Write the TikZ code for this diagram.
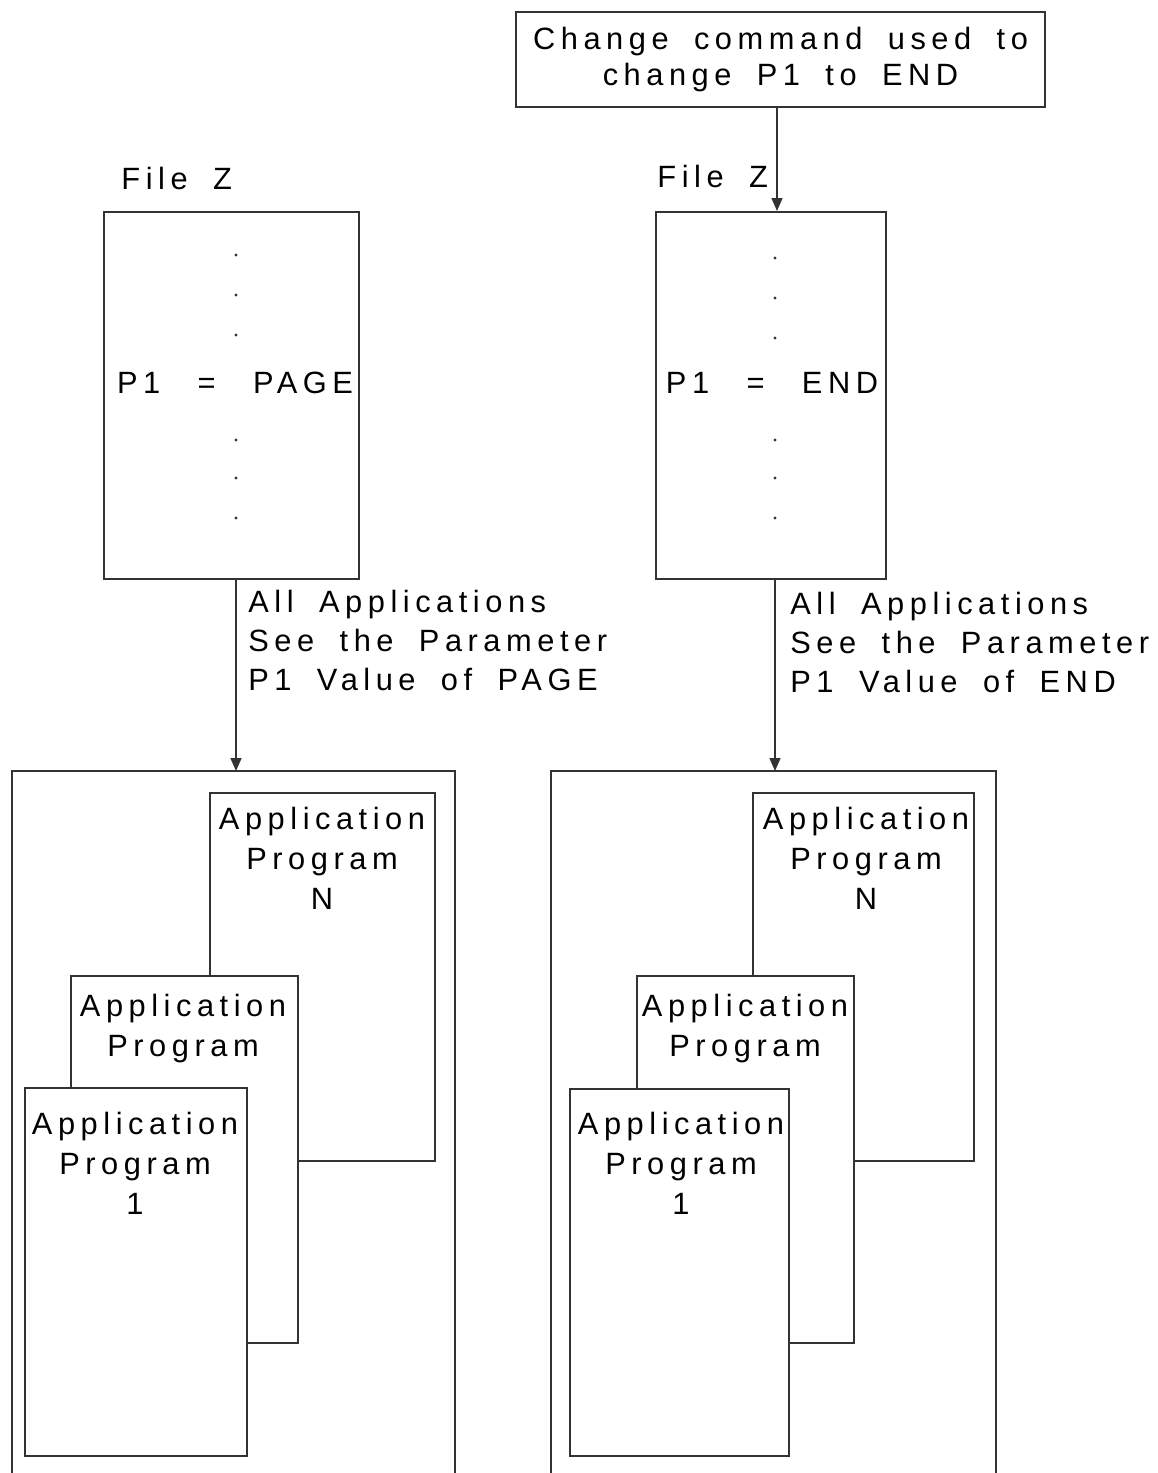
\documentclass[tikz,border=0pt]{standalone}
\usepackage{fontspec}
\setmainfont{Liberation Sans}[LetterSpace=18, WordSpace=1.8]
\usetikzlibrary{arrows.meta}
\begin{document}
\begin{tikzpicture}[x=0.5pt,y=-0.5pt,
	box/.style = {draw, fill=white, line width=1pt, draw=black!80, inner sep=0pt, anchor=north west},
	txt/.style = {font=\fontsize{15.4}{20}\selectfont, align=center, inner sep=0pt},
	lbl/.style = {font=\fontsize{15.4}{19.5}\selectfont, align=left, anchor=west, inner sep=0pt},
	dot/.style = {circle, fill=black!80, inner sep=0pt, minimum size=1.6pt},
	arr/.style = {-{Triangle[length=6.5pt,width=5.5pt]}, line width=0.8pt, draw=black!80}]
	\useasboundingbox (0,0) rectangle (1157,1473);
	% change command
	\node[box, anchor=center, minimum width=264.5pt, minimum height=47.5pt,
		font=\fontsize{15.4}{18}\selectfont, align=center] (cmd) at (780.5,59.5)
		{Change command used to\\change P1 to END};
	% file Z, before
	\node[txt, anchor=west] (fz1lbl) at (121,178) {File Z};
	\node[box, minimum width=127.5pt, minimum height=183.5pt] (fz1) at (103,211) {};
	\node[txt] (p1a) at (235,383) {P1\hspace{6pt} =\hspace{6pt} PAGE};
	\foreach \y [count=\i] in {255,295,335,440,478,518}
		\node[dot] (d1\i) at (236,\y) {};
	% file Z, after
	\node[txt, anchor=west] (fz2lbl) at (657,176) {File Z};
	\node[box, minimum width=115pt, minimum height=183.5pt] (fz2) at (655,211) {};
	\node[txt] (p1b) at (772,383) {P1\hspace{6pt} =\hspace{6pt} END};
	\foreach \y [count=\i] in {258,298,338,440,478,518}
		\node[dot] (d2\i) at (775,\y) {};
	\draw[arr] ([xshift=-1.75pt]cmd.south) -- ([xshift=-1.75pt]cmd.south |- fz2.north);
	% outer boxes, open at the bottom
	\coordinate (o1) at (236,771);
	\coordinate (o2) at (775,771);
	\draw[line width=1pt, black!80] (12,1480) -- (12,771) -- (455,771) -- (455,1480);
	\draw[line width=1pt, black!80] (551,1480) -- (551,771) -- (996,771) -- (996,1480);
	\draw[arr] (fz1.south -| o1) -- (o1);
	\draw[arr] (fz2.south -| o2) -- (o2);
	\node[lbl] (see1) at (248,640) {All Applications\\See the Parameter\\P1 Value of PAGE};
	\node[lbl] (see2) at (790,642) {All Applications\\See the Parameter\\P1 Value of END};
	% application programs, left
	\node[box, minimum width=112.5pt, minimum height=184pt] (a1n) at (209,792) {};
	\node[txt, anchor=north] (t1n) at (322,807) {Application\\Program\\N};
	\node[box, minimum width=113.5pt, minimum height=183.5pt] (a1m) at (70,975) {};
	\node[txt, anchor=north] (t1m) at (183,994) {Application\\Program};
	\node[box, minimum width=111pt, minimum height=184pt] (a11) at (24,1087) {};
	\node[txt, anchor=north] (t11) at (135,1112) {Application\\Program\\1};
	% application programs, right
	\node[box, minimum width=110.5pt, minimum height=184pt] (a2n) at (752,792) {};
	\node[txt, anchor=north] (t2n) at (866,807) {Application\\Program\\N};
	\node[box, minimum width=108.5pt, minimum height=183.5pt] (a2m) at (636,975) {};
	\node[txt, anchor=north] (t2m) at (745,994) {Application\\Program};
	\node[box, minimum width=109.5pt, minimum height=183.5pt] (a21) at (569,1088) {};
	\node[txt, anchor=north] (t21) at (681,1112) {Application\\Program\\1};
\end{tikzpicture}
\end{document}
